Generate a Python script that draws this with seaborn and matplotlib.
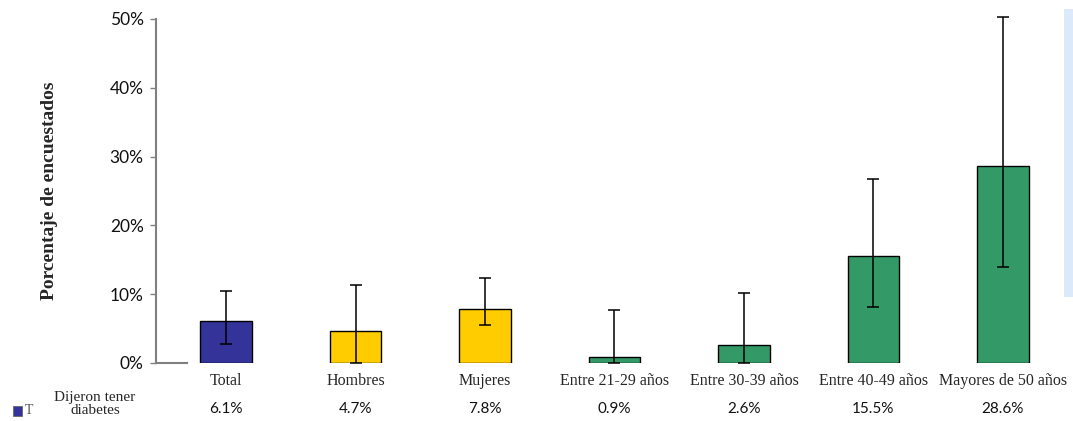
import matplotlib
matplotlib.use("Agg")
import matplotlib.pyplot as plt
import matplotlib.transforms as mtransforms
from matplotlib.patches import Rectangle
import seaborn as sns
import numpy as np

categories = ["Total", "Hombres", "Mujeres", "Entre 21-29 años", "Entre 30-39 años",
              "Entre 40-49 años", "Mayores de 50 años"]
values = [6.1, 4.7, 7.8, 0.9, 2.6, 15.5, 28.6]
upper = [10.4, 11.3, 12.3, 7.7, 10.2, 26.7, 50.3]
lower = [2.7, 0.0, 5.5, 0.0, 0.0, 8.1, 14.0]
value_labels = ["6.1%", "4.7%", "7.8%", "0.9%", "2.6%", "15.5%", "28.6%"]
colors = ["#333399", "#FFCC00", "#FFCC00", "#339966", "#339966", "#339966", "#339966"]
yticks = [0, 10, 20, 30, 40, 50]
ytick_labels = ["0%", "10%", "20%", "30%", "40%", "50%"]
series_name = "Dijeron tener\ndiabetes"

sns.set_style("white")
fig = plt.figure(figsize=(10.73, 4.21), dpi=100)
ax = fig.add_axes([0.1455, 0.1378, 0.8495, 0.8171])

sns.barplot(x=categories, y=values, hue=categories, palette=colors, legend=False,
            width=0.4, edgecolor="black", linewidth=1.0, saturation=1, ax=ax)

xs = np.arange(len(categories))
vals = np.array(values)
yerr = np.vstack([vals - np.array(lower), np.array(upper) - vals])
ax.errorbar(xs, vals, yerr=yerr, fmt="none", ecolor="black", elinewidth=1.1,
            capsize=4, capthick=1.1, clip_on=False, zorder=5)

ax.set_xlim(-0.54, 6.5)
ax.set_ylim(0, 50)
ax.set_yticks(yticks)
ax.set_yticklabels(ytick_labels, fontfamily="Lato", fontsize=12.5, color="#111111")
ax.tick_params(axis="y", direction="out", length=4, width=1, color="#808080", left=True, pad=5)
ax.tick_params(axis="x", length=0, pad=7)
ax.set_xticks(xs)
ax.set_xticklabels(categories, fontfamily="Liberation Serif", fontsize=11.5)

for s in ["top", "right"]:
    ax.spines[s].set_visible(False)
ax.spines["left"].set_color("#808080")
ax.spines["left"].set_linewidth(1.5)
ax.spines["bottom"].set_color("#808080")
ax.spines["bottom"].set_linewidth(1.5)
ax.spines["bottom"].set_bounds(-0.54, -0.3)

ax.set_ylabel("Porcentaje de encuestados", fontfamily="Liberation Serif",
              fontweight="bold", fontsize=14, labelpad=0)
ax.yaxis.set_label_coords(-0.108, 0.5)

# data table row
trans = mtransforms.blended_transform_factory(ax.transData, fig.transFigure)
for x, lab in zip(xs, value_labels):
    ax.text(x, 1 - 409 / 421, lab, transform=trans, ha="center", va="center",
            fontfamily="Lato", fontsize=11, color="#111111")

fig.text(95 / 1073, 1 - 404 / 421, series_name, ha="center", va="center",
         fontfamily="Liberation Serif", fontsize=11, linespacing=1.1)
fig.patches.append(Rectangle((13 / 1073, 1 - 416 / 421), 9 / 1073, 10 / 421,
                             transform=fig.transFigure, facecolor="#333399",
                             edgecolor="#666666", linewidth=0.6))
fig.text(25 / 1073, 1 - 411 / 421, "T", ha="left", va="center",
         fontfamily="Liberation Serif", fontsize=10, color="#555555")

# partially visible box on the right edge
fig.patches.append(Rectangle((1064 / 1073, 1 - 297 / 421), 10 / 1073, 288 / 421,
                             transform=fig.transFigure, facecolor="#dce9fb",
                             edgecolor="none"))

fig.savefig("out.png", dpi=100)
